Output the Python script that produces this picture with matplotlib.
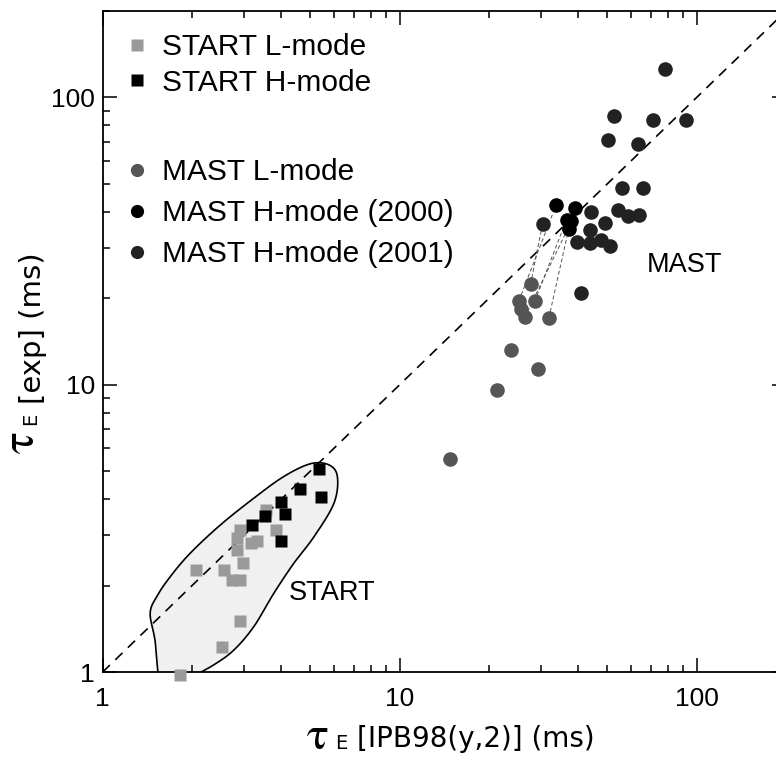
import numpy as np
import matplotlib
matplotlib.use('Agg')
import matplotlib.pyplot as plt
from matplotlib.lines import Line2D
from matplotlib.ticker import FuncFormatter, LogLocator, NullFormatter

plt.rcParams['font.family'] = ['Liberation Sans', 'DejaVu Sans']

# START spherical tokamak: confinement times (ms)
start_l_x = [1.82, 2.52, 2.91, 2.06, 2.56, 2.73, 2.91, 2.96, 2.84, 2.84, 2.91, 3.15, 3.31, 3.55, 3.84]
start_l_y = [0.98, 1.22, 1.50, 2.27, 2.27, 2.09, 2.09, 2.39, 2.66, 2.92, 3.12, 2.81, 2.85, 3.67, 3.12]
start_h_x = [3.19, 3.53, 3.97, 4.10, 4.00, 4.62, 5.35, 5.42]
start_h_y = [3.25, 3.48, 3.92, 3.55, 2.86, 4.33, 5.08, 4.08]

# MAST
mast_l_x = [27.6, 25.2, 28.5, 25.7, 26.4, 31.8, 23.8, 29.3, 21.3, 14.8]
mast_l_y = [22.4, 19.6, 19.5, 18.3, 17.2, 17.1, 13.2, 11.3, 9.6, 5.53]
mast_h2000_x = [33.7, 38.9, 36.5, 37.9, 37.1]
mast_h2000_y = [42.4, 41.3, 37.6, 37.1, 34.9]
mast_h2001_x = [78.0, 52.7, 71.2, 92.2, 50.4, 63.4, 55.9, 66.2, 54.5, 58.9,
                64.0, 44.0, 49.0, 43.7, 39.6, 43.7, 47.5, 51.2, 30.3, 40.7]
mast_h2001_y = [126, 86.5, 83.8, 83.3, 71.4, 69.0, 48.4, 48.4, 40.5, 38.8,
                39.1, 40.0, 36.6, 34.7, 31.4, 31.2, 31.8, 30.3, 36.4, 20.9]

# L-mode -> H-mode pairs from the same discharges (L index, H series, H index)
transitions = [(0, '2001', 18), (1, '2000', 0), (2, '2000', 2), (4, '2000', 3), (5, '2000', 4)]

# outline of the START data region
start_region_x = [1.57, 1.50, 1.445, 1.52, 1.69, 1.97, 2.49, 3.23, 4.07, 5.01, 5.78,
                  6.17, 6.01, 5.15, 4.40, 3.77, 3.23, 2.76, 2.36, 2.00, 1.80]
start_region_y = [0.90, 1.29, 1.60, 1.83, 2.15, 2.59, 3.25, 4.03, 4.79, 5.31, 5.26,
                  4.79, 3.87, 2.96, 2.39, 1.88, 1.44, 1.19, 1.057, 0.96, 0.88]

unity_x = [1, 200]
unity_y = [1, 200]


def smooth_closed(xs, ys, n=24):
    # closed Catmull-Rom curve through the outline points, in log space
    pts = np.column_stack([np.log10(xs), np.log10(ys)])
    m = len(pts)
    t = np.linspace(0, 1, n, endpoint=False)[:, None]
    segs = []
    for i in range(m):
        p0, p1, p2, p3 = pts[i - 1], pts[i], pts[(i + 1) % m], pts[(i + 2) % m]
        segs.append(0.5 * (2 * p1 + (-p0 + p2) * t
                           + (2 * p0 - 5 * p1 + 4 * p2 - p3) * t ** 2
                           + (-p0 + 3 * p1 - 3 * p2 + p3) * t ** 3))
    out = np.vstack(segs + [segs[0][:1]])
    return 10 ** out[:, 0], 10 ** out[:, 1]


fig = plt.figure(figsize=(7.76, 7.64), dpi=100)
ax = fig.add_axes([102.7 / 776, 92 / 764, 683.3 / 776, 661 / 764])
ax.set_xscale('log')
ax.set_yscale('log')
ax.set_xlim(1, 200)
ax.set_ylim(1, 200)

cx, cy = smooth_closed(start_region_x, start_region_y)
ax.fill(cx, cy, color='#f0f0f0', zorder=1)
ax.plot(cx, cy, color='black', lw=1.2, zorder=2)

ax.plot(unity_x, unity_y, color='black', lw=1.2, dashes=(6, 4.5), zorder=3)

h_series = {'2000': (mast_h2000_x, mast_h2000_y), '2001': (mast_h2001_x, mast_h2001_y)}
for li, key, hi in transitions:
    hx, hy = h_series[key]
    ax.plot([mast_l_x[li], hx[hi]], [mast_l_y[li], hy[hi]], color='#555555',
            lw=0.7, dashes=(4, 2.5), zorder=3)

ax.plot(start_l_x, start_l_y, ls='none', marker='s', ms=9, mfc='#9a9a9a', mec='none',
        zorder=4, clip_on=False)
ax.plot(start_h_x, start_h_y, ls='none', marker='s', ms=9, mfc='black', mec='none', zorder=5)
ax.plot(mast_l_x, mast_l_y, ls='none', marker='o', ms=10.5, mfc='#555555', mec='none', zorder=4)
ax.plot(mast_h2001_x, mast_h2001_y, ls='none', marker='o', ms=10.5, mfc='#222222', mec='none', zorder=5)
ax.plot(mast_h2000_x, mast_h2000_y, ls='none', marker='o', ms=10.5, mfc='black', mec='none', zorder=6)

ax.text(0.852, 0.616, 'MAST', transform=ax.transAxes, fontsize=19.5, ha='center', va='center')
ax.text(0.3355, 0.1195, 'START', transform=ax.transAxes, fontsize=19.5, ha='center', va='center')

# ticks
for axis in (ax.xaxis, ax.yaxis):
    axis.set_major_locator(LogLocator(base=10))
    axis.set_minor_locator(LogLocator(base=10, subs=np.arange(2, 10)))
    axis.set_major_formatter(FuncFormatter(lambda v, _: f'{v:g}'))
    axis.set_minor_formatter(NullFormatter())
ax.tick_params(which='both', direction='in', top=True, right=True, width=1.1, labelsize=19)
ax.tick_params(which='major', length=10)
ax.tick_params(which='minor', length=5)
ax.tick_params(axis='x', pad=11)
ax.tick_params(axis='y', pad=5.5)
for s in ax.spines.values():
    s.set_linewidth(1.3)

# legends
start_handles = [
    Line2D([], [], ls='none', marker='s', ms=8, mfc='#9a9a9a', mec='none', label='START L-mode'),
    Line2D([], [], ls='none', marker='s', ms=8, mfc='black', mec='none', label='START H-mode'),
]
mast_handles = [
    Line2D([], [], ls='none', marker='o', ms=9.5, mfc='#555555', mec='none', label='MAST L-mode'),
    Line2D([], [], ls='none', marker='o', ms=9.5, mfc='black', mec='none', label='MAST H-mode (2000)'),
    Line2D([], [], ls='none', marker='o', ms=9.5, mfc='#222222', mec='none', label='MAST H-mode (2001)'),
]
leg1 = ax.legend(handles=start_handles, loc='center left', bbox_to_anchor=(0.028, 0.9185),
                 frameon=False, fontsize=21.5, handlelength=1.0, handletextpad=0.33,
                 borderpad=0, borderaxespad=0, labelspacing=0.25)
ax.add_artist(leg1)
ax.legend(handles=mast_handles, loc='center left', bbox_to_anchor=(0.028, 0.694),
          frameon=False, fontsize=21.5, handlelength=1.0, handletextpad=0.33,
          borderpad=0, borderaxespad=0, labelspacing=0.43)

# axis labels: large tau with a small E, then the description
W, H = 776, 764
fig.text(307 / W, 1 - 749 / H, '\u03c4', family='STIXGeneral', fontsize=33, ha='left', va='baseline')
fig.text(335 / W, 1 - 749 / H, 'E', family='DejaVu Sans', fontsize=14, ha='left', va='baseline')
fig.text(357 / W, 1 - 747 / H, '[IPB98(y,2)] (ms)', family='DejaVu Sans', fontsize=20,
         ha='left', va='baseline')

fig.text(34 / W, 1 - 453 / H, '\u03c4', family='STIXGeneral', fontsize=33, rotation=90,
         rotation_mode='anchor', ha='left', va='baseline')
fig.text(36 / W, 1 - 425 / H, 'E', family='DejaVu Sans', fontsize=14, rotation=90,
         rotation_mode='anchor', ha='left', va='baseline')
fig.text(41 / W, 1 - 404 / H, '[exp] (ms)', family='DejaVu Sans', fontsize=21, rotation=90,
         rotation_mode='anchor', ha='left', va='baseline')

fig.savefig('out.png', dpi=100)
